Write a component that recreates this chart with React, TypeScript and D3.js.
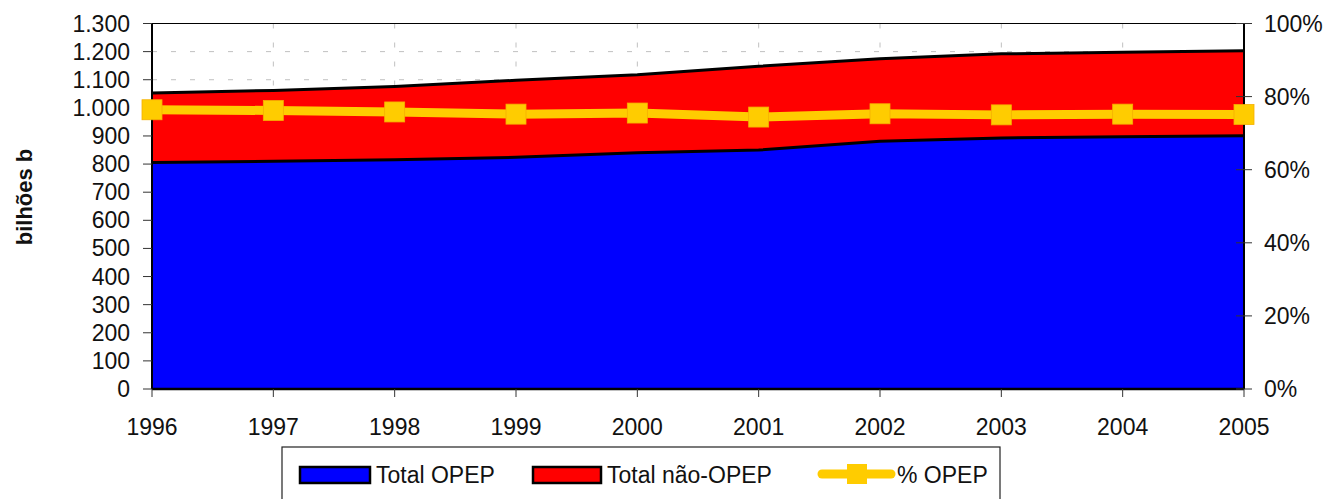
import React from "react";
import * as d3 from "d3";

const years = [1996, 1997, 1998, 1999, 2000, 2001, 2002, 2003, 2004, 2005];
const totalOpep = [806, 810, 815, 824, 840, 850, 881, 893, 897, 901];
const totalNaoOpep = [247, 252, 261, 274, 278, 298, 294, 299, 301, 302];
const pctOpep = [76.4, 76.2, 75.8, 75.2, 75.5, 74.4, 75.3, 75.0, 75.2, 75.1];
const leftTicks = d3.range(0, 1301, 100);
const rightTicks = [0, 20, 40, 60, 80, 100];

const FONT = "'Liberation Sans', Arial, sans-serif";
const BLUE = "#0000ff";
const RED = "#ff0000";
const YELLOW = "#ffcc00";

const ptBr = d3.formatLocale({ decimal: ",", thousands: ".", grouping: [3], currency: ["", ""] });
const fmtLeft = ptBr.format(",d");

const margin = { top: 23.5, right: 82, bottom: 110, left: 152 };
const W = 1326;
const H = 499;

export default function App() {
  const x = d3.scaleLinear().domain([1996, 2005]).range([margin.left, W - margin.right]);
  const y = d3.scaleLinear().domain([0, 1300]).range([H - margin.bottom, margin.top]);
  const yR = d3.scaleLinear().domain([0, 100]).range([H - margin.bottom, margin.top]);

  const rows = years.map((yr, i) => ({ year: yr, opep: totalOpep[i], nao: totalNaoOpep[i] }));
  const series = d3.stack<any>().keys(["opep", "nao"])(rows);

  const area = d3
    .area<any>()
    .x((d) => x(d.data.year))
    .y0((d) => y(d[0]))
    .y1((d) => y(d[1]));
  const topLine = d3
    .line<any>()
    .x((d) => x(d.data.year))
    .y((d) => y(d[1]));
  const pctLine = d3
    .line<number>()
    .x((_, i) => x(years[i]))
    .y((d) => yR(d));

  const x0 = x(1996);
  const x1 = x(2005);
  const yb = y(0);
  const yt = y(1300);

  return (
    <svg
      width={W}
      height={H}
      style={{ position: "absolute", left: 0, top: 0, background: "#fff" }}
      fontFamily={FONT}
    >
      {/* grid */}
      {leftTicks.slice(1).map((t) => (
        <line key={"h" + t} x1={x0} x2={x1} y1={y(t)} y2={y(t)} stroke="#c0c0c0" strokeDasharray="5 14" />
      ))}
      {years.slice(1).map((yr) => (
        <line key={"v" + yr} x1={x(yr)} x2={x(yr)} y1={yt} y2={yb} stroke="#c0c0c0" strokeDasharray="5 14" />
      ))}

      {/* stacked areas */}
      <path d={area(series[0]) || ""} fill={BLUE} />
      <path d={area(series[1]) || ""} fill={RED} />
      <path d={topLine(series[0]) || ""} fill="none" stroke="#000" strokeWidth={3} />
      <path d={topLine(series[1]) || ""} fill="none" stroke="#000" strokeWidth={3} />

      {/* frame */}
      <line x1={x0} x2={x1} y1={yt} y2={yt} stroke="#000" strokeWidth={1.2} />
      <line x1={x0} x2={x0} y1={yt} y2={yb} stroke="#000" strokeWidth={2} />
      <line x1={x1} x2={x1} y1={yt} y2={yb} stroke="#000" strokeWidth={2} />
      <line x1={x0} x2={x1} y1={yb} y2={yb} stroke="#000" strokeWidth={2.5} />

      {/* left axis */}
      {leftTicks.map((t) => (
        <g key={"l" + t}>
          <line x1={x0 - 9} x2={x0} y1={y(t)} y2={y(t)} stroke="#333" />
          <text x={130} y={y(t)} dy="0.35em" textAnchor="end" fontSize={23} fill="#111">
            {fmtLeft(t)}
          </text>
        </g>
      ))}

      {/* right axis */}
      {rightTicks.map((t) => (
        <g key={"r" + t}>
          <line x1={x1 - 8} x2={x1 + 8} y1={yR(t)} y2={yR(t)} stroke="#333" />
          <text x={1264} y={yR(t)} dy="0.35em" fontSize={23} fill="#111">
            {t + "%"}
          </text>
        </g>
      ))}

      {/* bottom axis */}
      {years.map((yr) => (
        <g key={"b" + yr}>
          <line x1={x(yr)} x2={x(yr)} y1={yb} y2={yb + 8} stroke="#333" />
          <text x={x(yr)} y={427} dy="0.35em" textAnchor="middle" fontSize={23} fill="#111">
            {yr}
          </text>
        </g>
      ))}

      {/* y title */}
      <text
        transform={`translate(24,197) rotate(-90)`}
        textAnchor="middle"
        dy="0.35em"
        fontSize={22}
        fontWeight="bold"
        fill="#111"
      >
        bilhões b
      </text>

      {/* % OPEP line */}
      <path d={pctLine(pctOpep) || ""} fill="none" stroke={YELLOW} strokeWidth={9} />
      {pctOpep.map((p, i) => (
        <rect
          key={"m" + i}
          x={x(years[i]) - 10}
          y={yR(p) - 10}
          width={20}
          height={20}
          fill={YELLOW}
          stroke="#f5b000"
          strokeWidth={0.8}
        />
      ))}

      {/* legend */}
      <rect x={282} y={447} width={718} height={70} fill="#fff" stroke="#222" strokeWidth={1.2} />
      <rect x={300} y={467} width={70} height={16} fill={BLUE} stroke="#000" strokeWidth={2.5} />
      <text x={376} y={475} dy="0.35em" fontSize={23} fill="#111">
        Total OPEP
      </text>
      <rect x={533} y={467} width={68} height={16} fill={RED} stroke="#000" strokeWidth={2.5} />
      <text x={607} y={475} dy="0.35em" fontSize={23} fill="#111">
        Total não-OPEP
      </text>
      <line x1={822} x2={891} y1={474} y2={474} stroke={YELLOW} strokeWidth={9} strokeLinecap="round" />
      <rect x={847} y={464} width={20} height={20} fill={YELLOW} />
      <text x={897} y={475} dy="0.35em" fontSize={23} fill="#111">
        % OPEP
      </text>
    </svg>
  );
}
